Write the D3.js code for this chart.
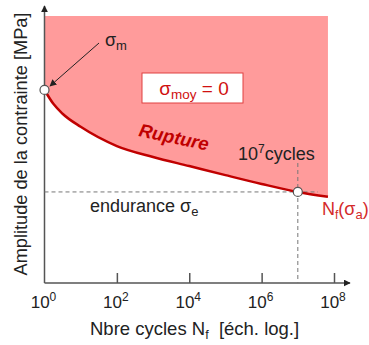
<!DOCTYPE html>
<html>
<head>
<meta charset="utf-8">
<script src="https://cdn.jsdelivr.net/npm/d3@7"></script>
<style>
  body { margin: 0; background: #fff; }
  text { font-family: "Liberation Sans", Arial, sans-serif; }
</style>
</head>
<body>
<div id="chart"></div>
<script>
var cycles = [1, 1.78, 3.16, 10, 100, 1e3, 1e4, 1e5, 1e6, 1e7, 6.8e7];
var amplitude = [72.3, 67.0, 63.4, 58.5, 51.3, 47.2, 43.8, 40.4, 37.1, 34.1, 32.3];
var tickExponents = [0, 2, 4, 6, 8];
var sigmaM = 72.3;
var sigmaE = 34.1;
var endurancePoint = 1e7;
var topValue = 100;

var svgWidth = 369;
var svgHeight = 345;

var svg = d3.select("#chart")
  .append("svg")
  .attr("width", svgWidth)
  .attr("height", svgHeight);

var x = d3.scaleLog()
  .domain([1, 1e8])
  .range([44.5, 334]);

var y = d3.scaleLinear()
  .domain([0, 100])
  .range([283, 16]);

var defs = svg.append("defs");
defs.append("marker")
  .attr("id", "arr")
  .attr("viewBox", "0 0 10 10")
  .attr("refX", 9).attr("refY", 5)
  .attr("markerWidth", 7).attr("markerHeight", 7)
  .attr("markerUnits", "userSpaceOnUse")
  .attr("orient", "auto")
  .append("path")
  .attr("d", "M0,0L10,5L0,10Z")
  .attr("fill", "#222");

var pts = cycles.map((c, i) => [c, amplitude[i]]);

// zone de rupture
svg.append("path")
  .datum(pts)
  .attr("fill", "#ff9b9b")
  .attr("d", d3.area()
    .x(d => x(d[0]))
    .y0(y(topValue))
    .y1(d => y(d[1]))
    .curve(d3.curveMonotoneX));

// axes
var xAxis = d3.axisBottom(x)
  .tickValues(tickExponents.map(e => Math.pow(10, e)))
  .tickSizeInner(-10)
  .tickSizeOuter(0)
  .tickFormat("");

var gx = svg.append("g")
  .attr("transform", "translate(0," + y(0) + ")")
  .call(xAxis);
gx.select(".domain").remove();
gx.selectAll(".tick line").attr("stroke", "#555").attr("stroke-width", 1.5);
gx.selectAll(".tick").filter(d => d === 1).select("line").remove();

gx.append("line")
  .attr("x1", x(1)).attr("x2", 350)
  .attr("stroke", "#555").attr("stroke-width", 1.5)
  .attr("marker-end", "url(#arr)");

svg.append("line")
  .attr("x1", x(1)).attr("x2", x(1))
  .attr("y1", y(0)).attr("y2", 6)
  .attr("stroke", "#555").attr("stroke-width", 1.5)
  .attr("marker-end", "url(#arr)");

var lbl = svg.append("g")
  .selectAll("text")
  .data(tickExponents)
  .enter()
  .append("text")
  .attr("x", d => x(Math.pow(10, d)) - 1)
  .attr("y", 308)
  .attr("text-anchor", "middle")
  .attr("font-size", 17)
  .attr("fill", "#222");
lbl.append("tspan").text("10");
lbl.append("tspan").attr("dy", -7).attr("font-size", 12).text(d => d);

// pointillés
svg.append("line")
  .attr("x1", x(1)).attr("x2", 318)
  .attr("y1", y(sigmaE)).attr("y2", y(sigmaE))
  .attr("stroke", "#777").attr("stroke-width", 1)
  .attr("stroke-dasharray", "4,3");
svg.append("line")
  .attr("x1", x(endurancePoint)).attr("x2", x(endurancePoint))
  .attr("y1", 163).attr("y2", y(0))
  .attr("stroke", "#777").attr("stroke-width", 1)
  .attr("stroke-dasharray", "4,3");

// courbe
svg.append("path")
  .datum(pts)
  .attr("fill", "none")
  .attr("stroke", "#c00000")
  .attr("stroke-width", 2.5)
  .attr("d", d3.line()
    .x(d => x(d[0]))
    .y(d => y(d[1]))
    .curve(d3.curveMonotoneX));

// points
svg.selectAll(".pt")
  .data([[1, sigmaM], [endurancePoint, sigmaE]])
  .enter()
  .append("circle")
  .attr("cx", d => x(d[0]))
  .attr("cy", d => y(d[1]))
  .attr("r", 4.5)
  .attr("fill", "#fff")
  .attr("stroke", "#555")
  .attr("stroke-width", 1.2);

// flèche sigma_m
svg.append("line")
  .attr("x1", 99).attr("y1", 43)
  .attr("x2", 50).attr("y2", 86)
  .attr("stroke", "#222").attr("stroke-width", 1)
  .attr("marker-end", "url(#arr)");

var sm = svg.append("text").attr("x", 105).attr("y", 46).attr("font-size", 18).attr("fill", "#222");
sm.append("tspan").text("σ");
sm.append("tspan").attr("dy", 4).attr("font-size", 13).text("m");

// boîte sigma_moy
svg.append("rect")
  .attr("x", 142).attr("y", 73)
  .attr("width", 101).attr("height", 30)
  .attr("fill", "#fff")
  .attr("stroke", "#e04040").attr("stroke-width", 1);
var smoy = svg.append("text").attr("x", 194).attr("y", 95)
  .attr("text-anchor", "middle").attr("font-size", 19).attr("fill", "#d01010");
smoy.append("tspan").text("σ");
smoy.append("tspan").attr("dy", 4).attr("font-size", 13.5).text("moy");
smoy.append("tspan").attr("dy", -4).text(" = 0");

// Rupture
svg.append("text")
  .attr("transform", "translate(138,136) rotate(12)")
  .attr("font-size", 18.5)
  .attr("font-weight", "bold")
  .attr("font-style", "italic")
  .attr("fill", "#c00000")
  .text("Rupture");

// 10^7 cycles
var c7 = svg.append("text").attr("x", 238).attr("y", 160).attr("font-size", 18).attr("fill", "#222");
c7.append("tspan").text("10");
c7.append("tspan").attr("dy", -7).attr("font-size", 12).text("7");
c7.append("tspan").attr("dy", 7).text("cycles");

// endurance
var en = svg.append("text").attr("x", 90).attr("y", 212).attr("font-size", 18).attr("fill", "#222");
en.append("tspan").text("endurance σ");
en.append("tspan").attr("dy", 4).attr("font-size", 13).text("e");

// Nf(sigma_a)
var nf = svg.append("text").attr("x", 322).attr("y", 215).attr("font-size", 18).attr("fill", "#d42a2a");
nf.append("tspan").text("N");
nf.append("tspan").attr("dy", 4).attr("font-size", 12).text("f");
nf.append("tspan").attr("dy", -4).text("(σ");
nf.append("tspan").attr("dy", 4).attr("font-size", 13).text("a");
nf.append("tspan").attr("dy", -4).text(")");

// titres des axes
svg.append("text")
  .attr("transform", "translate(27,144) rotate(-90)")
  .attr("text-anchor", "middle")
  .attr("font-size", 18.2)
  .attr("fill", "#222")
  .text("Amplitude de la contrainte [MPa]");

var xt = svg.append("text").attr("x", 90).attr("y", 335).attr("font-size", 18.5).attr("fill", "#222");
xt.append("tspan").text("Nbre cycles N");
xt.append("tspan").attr("dy", 4).attr("font-size", 12.5).text("f");
xt.append("tspan").attr("dy", -4).attr("xml:space", "preserve").text("  [éch. log.]");
</script>
</body>
</html>
